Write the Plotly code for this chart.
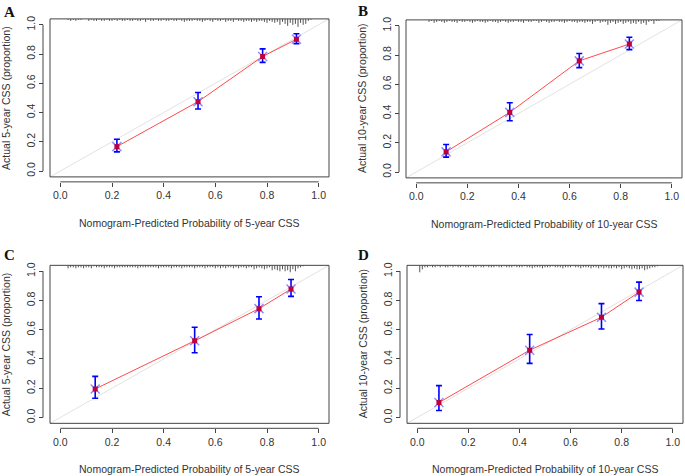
import plotly.graph_objects as go

A_pred = [0.219, 0.533, 0.783, 0.914]
A_obs = [0.167, 0.474, 0.783, 0.901]
A_hi = [0.217, 0.537, 0.835, 0.939]
A_lo = [0.131, 0.424, 0.743, 0.871]

B_pred = [0.117, 0.366, 0.638, 0.834]
B_obs = [0.138, 0.408, 0.760, 0.875]
B_hi = [0.188, 0.474, 0.810, 0.921]
B_lo = [0.102, 0.351, 0.714, 0.837]

C_pred = [0.135, 0.520, 0.769, 0.893]
C_obs = [0.195, 0.524, 0.744, 0.878]
C_hi = [0.281, 0.617, 0.825, 0.943]
C_lo = [0.132, 0.442, 0.673, 0.828]

D_pred = [0.085, 0.440, 0.721, 0.868]
D_obs = [0.102, 0.460, 0.685, 0.857]
D_hi = [0.218, 0.567, 0.778, 0.925]
D_lo = [0.048, 0.370, 0.605, 0.800]

# Rug of predicted probabilities along the top edge (position, tick length in px)
A_rug_x = [0.03, 0.04, 0.05, 0.06, 0.07, 0.08,
           0.11, 0.12, 0.13, 0.14, 0.15, 0.16, 0.17, 0.18, 0.19, 0.20, 0.21, 0.22, 0.23, 0.24, 0.25, 0.26, 0.27, 0.28, 0.29, 0.30,
           0.31, 0.32, 0.33, 0.34, 0.35, 0.36, 0.37, 0.38, 0.39, 0.40, 0.41, 0.42, 0.43, 0.44, 0.45, 0.46, 0.47, 0.48, 0.49, 0.50,
           0.51, 0.52, 0.53, 0.54, 0.55, 0.56, 0.57, 0.58, 0.59, 0.60, 0.61, 0.62, 0.63, 0.64, 0.65, 0.66, 0.67, 0.68, 0.69, 0.70,
           0.71, 0.72, 0.73, 0.74, 0.75, 0.76, 0.77, 0.78, 0.79, 0.80, 0.81, 0.82, 0.83, 0.84,
           0.85, 0.86, 0.87, 0.88, 0.89, 0.90, 0.91, 0.92, 0.93, 0.94, 0.95, 0.96, 0.97]
A_rug_len = [1, 2, 1, 2, 1, 1,
             2, 1, 2, 2, 1, 2, 2, 1, 2, 2, 1, 2, 1, 2, 2, 1, 2, 2, 1, 2,
             2, 1, 3, 1, 2, 2, 1, 2, 2, 1, 2, 2, 1, 2, 2, 1, 2, 3, 2, 2,
             2, 1, 2, 2, 3, 2, 1, 2, 3, 1, 2, 2, 1, 3, 2, 2, 3, 1, 2, 2,
             3, 2, 2, 3, 2, 3, 2, 2, 3, 4, 2, 3, 4, 3,
             6, 3, 5, 7, 4, 6, 5, 8, 4, 6, 5, 2, 1]

B_rug_x = [0.05, 0.06, 0.07, 0.08, 0.09, 0.10, 0.11, 0.12, 0.13, 0.14, 0.15, 0.16, 0.17, 0.18, 0.19, 0.20, 0.21, 0.22, 0.23, 0.24,
           0.25, 0.26, 0.27, 0.28, 0.29, 0.30, 0.31, 0.32, 0.33, 0.34, 0.35, 0.36, 0.37, 0.38, 0.39, 0.40, 0.41, 0.42, 0.43, 0.44,
           0.45, 0.46, 0.47, 0.48, 0.49, 0.50, 0.51, 0.52, 0.53, 0.54, 0.55, 0.56, 0.57, 0.58, 0.59, 0.60, 0.61, 0.62, 0.63, 0.64,
           0.65, 0.66, 0.67, 0.68, 0.69, 0.70, 0.71, 0.72, 0.73, 0.74, 0.75, 0.76, 0.77, 0.78, 0.79, 0.80, 0.81, 0.82, 0.83, 0.84,
           0.85, 0.86, 0.87, 0.88, 0.89, 0.90, 0.91, 0.92, 0.93, 0.94, 0.95]
B_rug_len = [2, 1, 3, 2, 1, 2, 3, 2, 1, 2, 2, 3, 1, 2, 2, 1, 2, 3, 2, 1,
             2, 2, 3, 2, 1, 2, 2, 3, 2, 1, 2, 3, 2, 2, 1, 2, 2, 3, 1, 2,
             2, 1, 1, 3, 2, 1, 2, 3, 2, 2, 1, 2, 2, 3, 2, 1, 2, 2, 3, 2,
             2, 3, 2, 2, 4, 2, 1, 3, 2, 2, 5, 3, 2, 4, 3, 2, 4, 3, 2, 4,
             3, 4, 2, 4, 3, 5, 2, 1, 4, 1, 1]

C_rug_x = [0.03, 0.04, 0.05, 0.06, 0.07, 0.08, 0.09, 0.10, 0.11, 0.12, 0.13, 0.14, 0.15, 0.16, 0.17, 0.18, 0.19, 0.20, 0.21, 0.22,
           0.23, 0.24, 0.25, 0.26, 0.27, 0.28, 0.29, 0.30, 0.31, 0.32, 0.33, 0.34, 0.35, 0.36, 0.37, 0.38, 0.39, 0.40, 0.41, 0.42,
           0.43, 0.44, 0.45, 0.46, 0.47, 0.48, 0.49, 0.50, 0.51, 0.52, 0.53, 0.54, 0.55, 0.56, 0.57, 0.58, 0.59, 0.60, 0.61, 0.62,
           0.63, 0.64, 0.65, 0.66, 0.67, 0.68, 0.69, 0.70, 0.71, 0.72, 0.73, 0.74, 0.75, 0.76, 0.77, 0.78, 0.79, 0.80, 0.81, 0.82,
           0.83, 0.84, 0.85, 0.86, 0.87, 0.88, 0.89, 0.90, 0.91, 0.92, 0.93, 0.94]
C_rug_len = [3, 2, 2, 3, 2, 2, 3, 2, 2, 3, 1, 2, 2, 2, 3, 2, 2, 2, 3, 2,
             2, 2, 2, 2, 2, 2, 2, 3, 2, 2, 2, 2, 2, 2, 2, 3, 2, 2, 2, 2,
             3, 2, 2, 2, 3, 2, 2, 2, 2, 3, 2, 2, 2, 3, 2, 2, 2, 3, 2, 3,
             2, 3, 2, 2, 3, 2, 3, 2, 2, 3, 2, 2, 4, 3, 2, 3, 4, 3, 2, 5,
             4, 5, 6, 4, 6, 5, 7, 4, 6, 3, 2, 1]

D_rug_x = [0.01, 0.02,
           0.03, 0.04, 0.05, 0.06, 0.07, 0.08, 0.09, 0.10, 0.11, 0.12, 0.13, 0.14, 0.15, 0.16, 0.17, 0.18, 0.19, 0.20, 0.21, 0.22,
           0.23, 0.24, 0.25, 0.26, 0.27, 0.28, 0.29, 0.30, 0.31, 0.32, 0.33, 0.34, 0.35, 0.36, 0.37, 0.38, 0.39, 0.40, 0.41, 0.42,
           0.43, 0.44, 0.45, 0.46, 0.47, 0.48, 0.49, 0.50, 0.51, 0.52, 0.53, 0.54, 0.55, 0.56, 0.57, 0.58, 0.59, 0.60, 0.61, 0.62,
           0.63, 0.64, 0.65, 0.66, 0.67, 0.68, 0.69, 0.70, 0.71, 0.72, 0.73, 0.74, 0.75, 0.76, 0.77, 0.78, 0.79, 0.80, 0.81, 0.82,
           0.83, 0.84, 0.85, 0.86, 0.87, 0.88, 0.89, 0.90, 0.91, 0.92, 0.93, 0.94]
D_rug_len = [7, 4,
             2, 2, 1, 2, 2, 1, 2, 1, 2, 2, 1, 2, 1, 2, 2, 1, 2, 2, 1, 2,
             2, 1, 2, 2, 1, 2, 2, 2, 1, 2, 2, 1, 2, 2, 2, 1, 2, 2, 2, 1,
             2, 2, 3, 2, 2, 2, 3, 2, 2, 2, 1, 2, 2, 2, 3, 2, 2, 2, 1, 2,
             2, 3, 2, 2, 2, 3, 2, 2, 3, 2, 3, 2, 3, 3, 2, 3, 2, 4, 3, 2,
             3, 4, 3, 4, 4, 3, 5, 4, 3, 2, 2, 1]

labels = ['A', 'B', 'C', 'D']
y_titles = ['Actual 5-year CSS (proportion)', 'Actual 10-year CSS (proportion)',
            'Actual 5-year CSS (proportion)', 'Actual 10-year CSS (proportion)']
x_titles = ['Nomogram-Predicted Probability of 5-year CSS', 'Nomogram-Predicted Probability of 10-year CSS',
            'Nomogram-Predicted Probability of 5-year CSS', 'Nomogram-Predicted Probability of 10-year CSS']
ticks = [0, 0.2, 0.4, 0.6, 0.8, 1.0]
tick_text = ['0.0', '0.2', '0.4', '0.6', '0.8', '1.0']

W, H = 685, 476
# plot boxes in pixels: left, right, top, bottom
boxes = [(50, 329, 16, 175), (406, 682, 17, 176), (50, 329, 264, 423), (407, 683, 264, 423)]
letter_pos = [(9, 9), (363, 8), (9, 254), (363, 254)]

panels = [
    (A_pred, A_obs, A_hi, A_lo, A_rug_x, A_rug_len),
    (B_pred, B_obs, B_hi, B_lo, B_rug_x, B_rug_len),
    (C_pred, C_obs, C_hi, C_lo, C_rug_x, C_rug_len),
    (D_pred, D_obs, D_hi, D_lo, D_rug_x, D_rug_len),
]

FONT = 'Liberation Sans, Arial, sans-serif'
RNG = [-0.04, 1.04]
PX_TO_Y = 1.08 / 159  # one pixel in data units

fig = go.Figure()
shapes = []
annotations = []
layout = {}

for i, (pred, obs, hi, lo, rug_x, rug_len) in enumerate(panels):
    n = '' if i == 0 else str(i + 1)
    xa, ya = 'x' + n, 'y' + n
    left, right, top, bottom = boxes[i]

    # ideal line
    fig.add_trace(go.Scatter(x=RNG, y=RNG, mode='lines', line=dict(color='#e2e2e2', width=1),
                             xaxis=xa, yaxis=ya, showlegend=False, hoverinfo='skip'))

    # rug of predictions hanging from the top edge
    rx, ry = [], []
    for xv, ln in zip(rug_x, rug_len):
        rx += [xv, xv, None]
        ry += [RNG[1], RNG[1] - ln * PX_TO_Y, None]
    fig.add_trace(go.Scatter(x=rx, y=ry, mode='lines', line=dict(color='#555555', width=1),
                             xaxis=xa, yaxis=ya, showlegend=False, hoverinfo='skip'))

    # observed vs predicted with CI
    fig.add_trace(go.Scatter(
        x=pred, y=obs, mode='lines', line=dict(color='#ff4a4a', width=1),
        xaxis=xa, yaxis=ya, showlegend=False))
    fig.add_trace(go.Scatter(
        x=pred, y=obs, mode='markers',
        marker=dict(symbol='x-thin', size=9, line=dict(color='#8f8fff', width=1.5)),
        error_y=dict(type='data', symmetric=False,
                     array=[h - o for h, o in zip(hi, obs)],
                     arrayminus=[o - l for o, l in zip(obs, lo)],
                     color='#0000ff', thickness=1.6, width=3),
        xaxis=xa, yaxis=ya, showlegend=False))
    fig.add_trace(go.Scatter(
        x=pred, y=obs, mode='markers',
        marker=dict(symbol='square', size=5, color='#c0003c'),
        xaxis=xa, yaxis=ya, showlegend=False))

    x_pos = 1 - (bottom + 5) / H
    y_pos = (left - 7) / W
    layout['xaxis' + n] = dict(
        domain=[left / W, right / W], range=RNG, anchor='free', position=x_pos,
        tickvals=ticks, ticktext=tick_text, ticks='outside', ticklen=4, tickcolor='#444',
        showline=False, showgrid=False, zeroline=False,
        tickfont=dict(family=FONT, size=10.5, color='#333'))
    layout['yaxis' + n] = dict(
        domain=[1 - bottom / H, 1 - top / H], range=RNG, anchor='free', position=y_pos,
        tickvals=ticks, ticktext=tick_text, ticks='outside', ticklen=4, tickcolor='#444',
        tickangle=-90, showline=False, showgrid=False, zeroline=False,
        tickfont=dict(family=FONT, size=10.5, color='#333'))

    # box around the plot region
    shapes.append(dict(type='rect', xref=xa + ' domain', yref=ya + ' domain', x0=0, x1=1, y0=0, y1=1,
                       line=dict(color='#444', width=1)))
    # detached axis lines (R style)
    shapes.append(dict(type='line', xref=xa, yref='paper', x0=0, x1=1, y0=x_pos, y1=x_pos,
                       line=dict(color='#444', width=1)))
    shapes.append(dict(type='line', xref='paper', yref=ya, x0=y_pos, x1=y_pos, y0=0, y1=1,
                       line=dict(color='#444', width=1)))

    # axis titles
    annotations.append(dict(text=x_titles[i], xref=xa, yref='paper', x=0.5, y=1 - (bottom + 46) / H,
                            xanchor='center', yanchor='middle',
                            showarrow=False, font=dict(family=FONT, size=10.5, color='#333')))
    annotations.append(dict(text=y_titles[i], xref='paper', yref=ya, x=(left - 44) / W, y=0.5,
                            xanchor='center', yanchor='middle',
                            textangle=-90, showarrow=False, font=dict(family=FONT, size=10.5, color='#333')))
    # panel letter
    lx, ly = letter_pos[i]
    annotations.append(dict(text='<b>' + labels[i] + '</b>', xref='paper', yref='paper',
                            x=lx / W, y=1 - ly / H, xanchor='center', yanchor='middle', showarrow=False,
                            font=dict(family='Liberation Serif, Times New Roman, serif', size=15, color='#111')))

fig.update_layout(
    width=W, height=H, margin=dict(l=0, r=0, t=0, b=0),
    paper_bgcolor='white', plot_bgcolor='white',
    shapes=shapes, annotations=annotations, showlegend=False,
    **layout
)

# the default page adds an 8px body margin; drop it so the figure fills the window
fig.write_html("out.html", config={'displayModeBar': False},
               post_script="document.body.style.margin='0px';")
